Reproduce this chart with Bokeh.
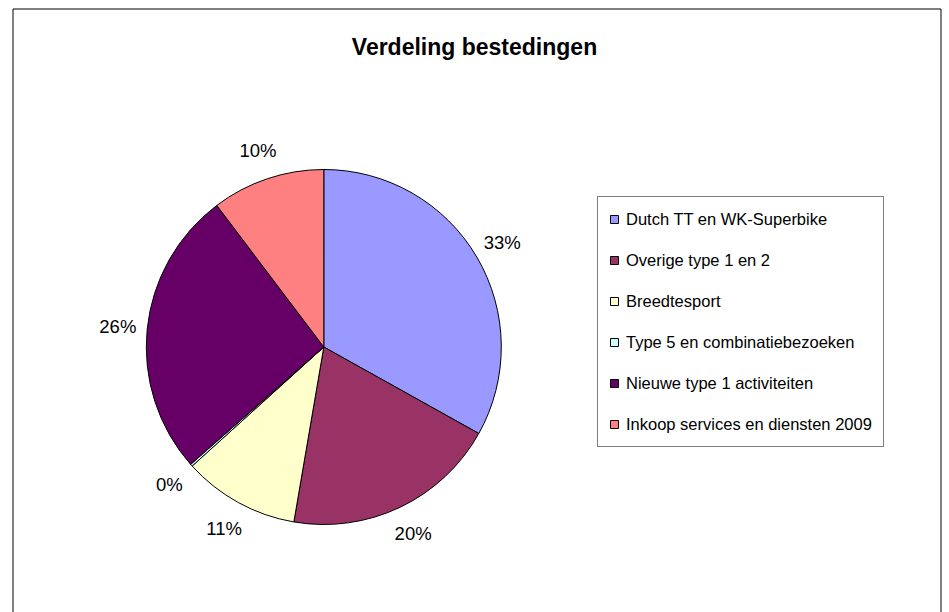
import math
from bokeh.plotting import figure
from bokeh.models import ColumnDataSource, Legend, LegendItem, Label
from bokeh.core.properties import value
from bokeh.embed import file_html
from bokeh.resources import INLINE

# ---- data ----
categories = [
    "Dutch TT en WK-Superbike",
    "Overige type 1 en 2",
    "Breedtesport",
    "Type 5 en combinatiebezoeken",
    "Nieuwe type 1 activiteiten",
    "Inkoop services en diensten 2009",
]
shares = [33.1, 19.6, 10.6, 0.2, 26.2, 10.3]
colors = ["#9999FF", "#993366", "#FFFFCC", "#CCFFFF", "#660066", "#FF8080"]
title_text = "Verdeling bestedingen"

# ---- layout ----
W, H = 949, 612
cx, cy, r = 323.3, 265.5, 177.5
label_r = 207.0
FONT = "Liberation Sans"

total = sum(shares)
starts, ends, lx, ly, labels = [], [], [], [], []
cum = 0.0
for s in shares:
    a0 = cum / total
    cum += s
    a1 = cum / total
    # clockwise from 12 o'clock
    starts.append(math.pi / 2 - a1 * 2 * math.pi)
    ends.append(math.pi / 2 - a0 * 2 * math.pi)
    mid = (a0 + a1) / 2 * 2 * math.pi
    lx.append(cx + label_r * math.sin(mid))
    ly.append(cy + label_r * math.cos(mid))
    labels.append(f"{round(s / total * 100):d}%")

p = figure(width=W, height=H, x_range=(0, W), y_range=(0, H),
           output_backend="svg", toolbar_location=None, min_border=0,
           x_axis_location=None, y_axis_location=None)
p.grid.visible = False
p.outline_line_color = None
p.background_fill_color = "white"
p.border_fill_color = "white"

# outer chart frame (bottom edge lies outside the visible window)
p.line(x=[12.5, 12.5, 940.5, 940.5], y=[-10, 603.5, 603.5, -10],
       line_color="black", line_width=1)

items = []
for i, cat in enumerate(categories):
    src = ColumnDataSource(dict(x=[cx], y=[cy], s=[starts[i]], e=[ends[i]]))
    rend = p.wedge(x="x", y="y", radius=r, start_angle="s", end_angle="e",
                   direction="anticlock", fill_color=colors[i],
                   line_color="black", line_width=1, source=src)
    items.append(LegendItem(label=cat, renderers=[rend]))

lab_src = ColumnDataSource(dict(x=lx, y=ly, t=labels))
p.text(x="x", y="y", text="t", source=lab_src, text_font=value(FONT),
       text_font_size="18.5px", text_align="center", text_baseline="middle",
       text_color="black")

legend = Legend(items=items, location=(597, 165),
                glyph_width=10, glyph_height=10, label_height=22, spacing=19,
                padding=11, margin=0, label_standoff=7,
                label_text_font=FONT, label_text_font_size="16.5px",
                label_text_color="black",
                border_line_color="black", border_line_width=1,
                background_fill_color="white", background_fill_alpha=1.0)
p.add_layout(legend)

p.add_layout(Label(x=474, y=566, text=title_text, text_font=FONT,
                   text_font_size="23px", text_font_style="bold",
                   text_align="center", text_baseline="middle",
                   text_color="black"))

open("out.html", "w").write(file_html(p, INLINE))
